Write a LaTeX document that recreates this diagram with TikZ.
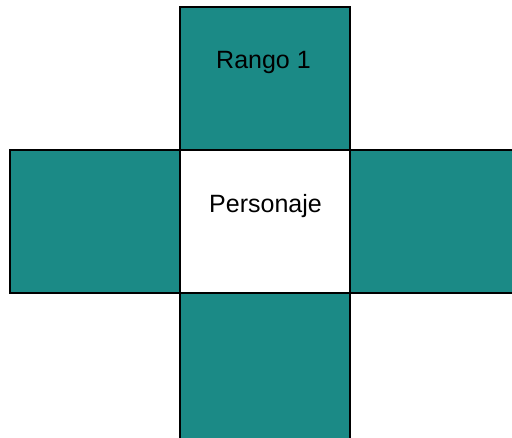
\documentclass[tikz,border=0pt]{standalone}
\usepackage{fontspec}
\setmainfont{Liberation Sans}
\definecolor{teal1}{HTML}{1B8A86}
\begin{document}
\begin{tikzpicture}[x=1pt,y=-1pt,
  sq/.style={draw=black,line width=1.2pt,inner sep=0pt,outer sep=0pt,anchor=north west,minimum width=170pt,minimum height=143pt},
  lbl/.style={anchor=base,inner sep=0pt,font=\fontsize{25}{30}\selectfont}]
\useasboundingbox (0,0) rectangle (512,437);
\clip (0,0) rectangle (512,437);
\node[sq,fill=teal1] (top) at (180,7) {};
\node[sq,fill=white] (mid) at (180,150) {};
\node[sq,fill=teal1] (left) at (10,150) {};
\node[sq,fill=teal1,minimum width=175pt] (right) at (350,150) {};
\node[sq,fill=teal1,minimum height=150pt] (bottom) at (180,293) {};
\node[lbl] (t1) at (263.5,68) {Rango 1};
\node[lbl] (t2) at (265.5,212) {Personaje};
\end{tikzpicture}
\end{document}
